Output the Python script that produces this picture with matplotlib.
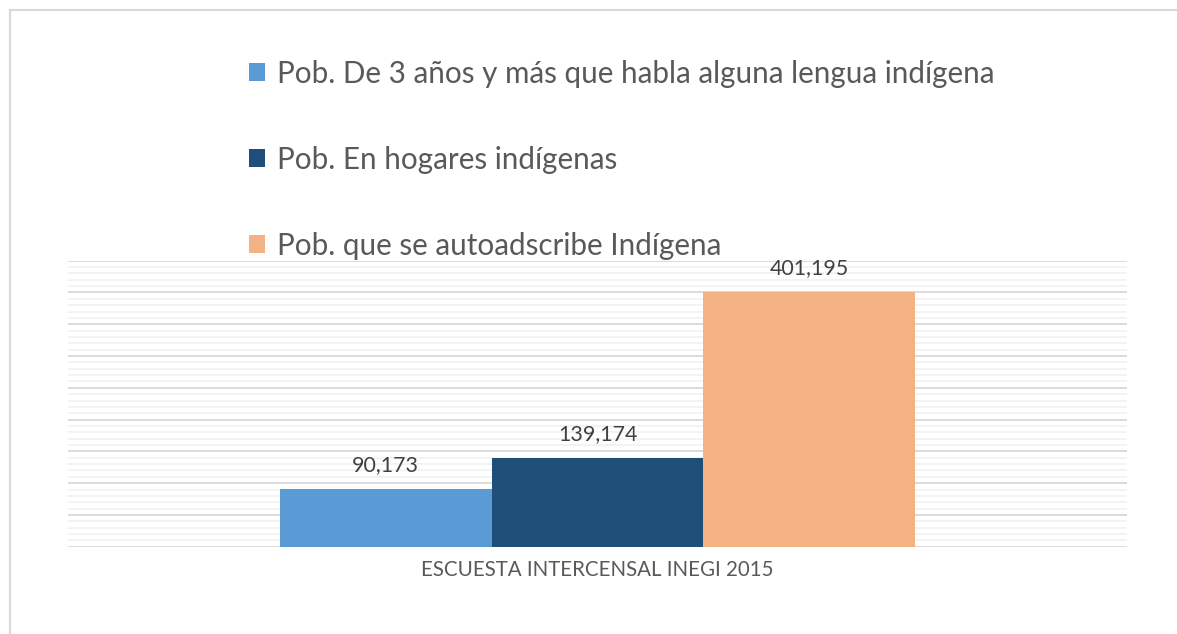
import matplotlib
matplotlib.use("Agg")
import matplotlib.pyplot as plt
from matplotlib.patches import Patch
from matplotlib.lines import Line2D
from matplotlib.ticker import MultipleLocator

plt.rcParams['font.family'] = ['Lato', 'DejaVu Sans']

category = "ESCUESTA INTERCENSAL INEGI 2015"
series = [
    "Pob. De 3 años y más que habla alguna lengua indígena",
    "Pob. En hogares indígenas",
    "Pob. que se autoadscribe Indígena",
]
values = [90173, 139174, 401195]
labels = ["90,173", "139,174", "401,195"]
colors = ["#5b9bd5", "#1f4e79", "#f4b183"]

W, H = 1177, 634
fig = plt.figure(figsize=(W / 100, H / 100), dpi=100)
ax = fig.add_axes([68 / W, (H - 546.7) / H, (1127 - 68) / W, 286 / H])

bw = 0.2
offsets = [-bw, 0, bw]
for off, v, lab, c, name in zip(offsets, values, labels, colors, series):
    ax.bar(off, v, width=bw, color=c, label=name, zorder=3)
    ax.annotate(lab, (off, v), xytext=(0, 10), textcoords='offset points',
                ha='center', va='bottom', fontsize=15.4, color='#404040')

ax.set_xlim(-0.5, 0.5)
ax.set_ylim(0, 450000)
ax.yaxis.set_major_locator(MultipleLocator(50000))
ax.yaxis.set_minor_locator(MultipleLocator(10000))
ax.grid(which='major', axis='y', color='#d9d9d9', linewidth=1.3, zorder=1)
ax.grid(which='minor', axis='y', color='#f2f2f2', linewidth=1.3, zorder=0)
ax.tick_params(which='both', left=False, bottom=False, labelleft=False)
ax.set_xticks([0])
ax.set_xticklabels([category], fontsize=14.8, color='#595959')
ax.tick_params(axis='x', pad=6)
for s in ax.spines.values():
    s.set_visible(False)
ax.set_axisbelow(True)

handles = [Patch(facecolor=c, edgecolor='none') for c in colors]
leg = fig.legend(handles, series, loc='upper left',
                 bbox_to_anchor=(222 / W, 1 - 33 / H),
                 frameon=False, fontsize=21.3, labelspacing=1.96,
                 handlelength=0.55, handleheight=0.55, handletextpad=0.4,
                 labelcolor='#595959')

# outer chart border (top and left visible)
fig.add_artist(Line2D([9.5 / W, 1.0], [1 - 9.5 / H, 1 - 9.5 / H],
                      transform=fig.transFigure, color='#d9d9d9', linewidth=1.5))
fig.add_artist(Line2D([9.5 / W, 9.5 / W], [0, 1 - 9.5 / H],
                      transform=fig.transFigure, color='#d9d9d9', linewidth=1.5))

fig.savefig("out.png", dpi=100)
